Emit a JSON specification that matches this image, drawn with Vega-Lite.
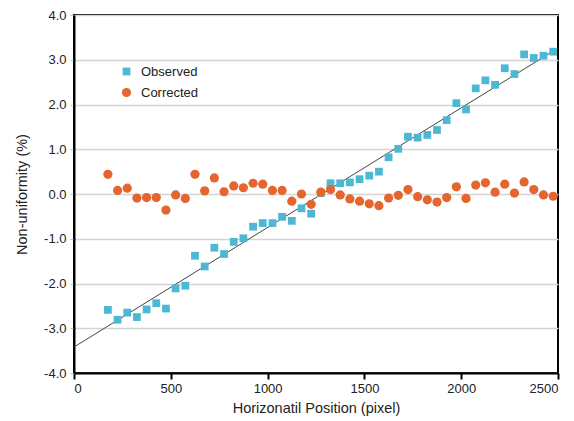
{
  "$schema": "https://vega.github.io/schema/vega-lite/v6.json",
  "width": 484,
  "height": 358,
  "autosize": {"type": "none"},
  "padding": {"left": 74, "top": 15, "right": 16, "bottom": 48},
  "background": "white",
  "config": {
    "font": "Liberation Sans",
    "locale": {"number": {"decimal": ".", "thousands": ",", "grouping": [3], "currency": ["$", ""], "minus": "-"}},
    "view": {"stroke": "#000000", "strokeWidth": 2},
    "axis": {"labelFont": "Liberation Sans", "titleFont": "Liberation Sans", "labelColor": "#222", "titleColor": "#222", "titleFontWeight": "normal"}
  },
  "datasets": {
    "fit": [
      {"x": 0, "y": -3.42},
      {"x": 2500, "y": 3.26}
    ],
    "pts": [
      {"series": "Observed", "x": 175, "y": -2.59},
      {"series": "Observed", "x": 225, "y": -2.81},
      {"series": "Observed", "x": 275, "y": -2.65},
      {"series": "Observed", "x": 325, "y": -2.75},
      {"series": "Observed", "x": 375, "y": -2.58},
      {"series": "Observed", "x": 425, "y": -2.44},
      {"series": "Observed", "x": 475, "y": -2.56},
      {"series": "Observed", "x": 525, "y": -2.11},
      {"series": "Observed", "x": 575, "y": -2.05},
      {"series": "Observed", "x": 625, "y": -1.38},
      {"series": "Observed", "x": 675, "y": -1.62},
      {"series": "Observed", "x": 725, "y": -1.20},
      {"series": "Observed", "x": 775, "y": -1.34},
      {"series": "Observed", "x": 825, "y": -1.07},
      {"series": "Observed", "x": 875, "y": -0.99},
      {"series": "Observed", "x": 925, "y": -0.73},
      {"series": "Observed", "x": 975, "y": -0.65},
      {"series": "Observed", "x": 1025, "y": -0.65},
      {"series": "Observed", "x": 1075, "y": -0.51},
      {"series": "Observed", "x": 1125, "y": -0.60},
      {"series": "Observed", "x": 1175, "y": -0.32},
      {"series": "Observed", "x": 1225, "y": -0.44},
      {"series": "Observed", "x": 1275, "y": 0.02},
      {"series": "Observed", "x": 1325, "y": 0.24},
      {"series": "Observed", "x": 1375, "y": 0.24},
      {"series": "Observed", "x": 1425, "y": 0.26},
      {"series": "Observed", "x": 1475, "y": 0.33},
      {"series": "Observed", "x": 1525, "y": 0.41},
      {"series": "Observed", "x": 1575, "y": 0.50},
      {"series": "Observed", "x": 1625, "y": 0.82},
      {"series": "Observed", "x": 1675, "y": 1.01},
      {"series": "Observed", "x": 1725, "y": 1.28},
      {"series": "Observed", "x": 1775, "y": 1.26},
      {"series": "Observed", "x": 1825, "y": 1.32},
      {"series": "Observed", "x": 1875, "y": 1.43},
      {"series": "Observed", "x": 1925, "y": 1.65},
      {"series": "Observed", "x": 1975, "y": 2.03},
      {"series": "Observed", "x": 2025, "y": 1.89},
      {"series": "Observed", "x": 2075, "y": 2.36},
      {"series": "Observed", "x": 2125, "y": 2.54},
      {"series": "Observed", "x": 2175, "y": 2.44},
      {"series": "Observed", "x": 2225, "y": 2.81},
      {"series": "Observed", "x": 2275, "y": 2.68},
      {"series": "Observed", "x": 2325, "y": 3.12},
      {"series": "Observed", "x": 2375, "y": 3.04},
      {"series": "Observed", "x": 2425, "y": 3.09},
      {"series": "Observed", "x": 2475, "y": 3.18},
      {"series": "Corrected", "x": 175, "y": 0.44},
      {"series": "Corrected", "x": 225, "y": 0.08},
      {"series": "Corrected", "x": 275, "y": 0.13},
      {"series": "Corrected", "x": 325, "y": -0.09},
      {"series": "Corrected", "x": 375, "y": -0.08},
      {"series": "Corrected", "x": 425, "y": -0.08},
      {"series": "Corrected", "x": 475, "y": -0.36},
      {"series": "Corrected", "x": 525, "y": -0.02},
      {"series": "Corrected", "x": 575, "y": -0.10},
      {"series": "Corrected", "x": 625, "y": 0.44},
      {"series": "Corrected", "x": 675, "y": 0.07},
      {"series": "Corrected", "x": 725, "y": 0.36},
      {"series": "Corrected", "x": 775, "y": 0.05},
      {"series": "Corrected", "x": 825, "y": 0.18},
      {"series": "Corrected", "x": 875, "y": 0.14},
      {"series": "Corrected", "x": 925, "y": 0.24},
      {"series": "Corrected", "x": 975, "y": 0.22},
      {"series": "Corrected", "x": 1025, "y": 0.08},
      {"series": "Corrected", "x": 1075, "y": 0.08},
      {"series": "Corrected", "x": 1125, "y": -0.16},
      {"series": "Corrected", "x": 1175, "y": 0.00},
      {"series": "Corrected", "x": 1225, "y": -0.23},
      {"series": "Corrected", "x": 1275, "y": 0.04},
      {"series": "Corrected", "x": 1325, "y": 0.10},
      {"series": "Corrected", "x": 1375, "y": -0.02},
      {"series": "Corrected", "x": 1425, "y": -0.11},
      {"series": "Corrected", "x": 1475, "y": -0.16},
      {"series": "Corrected", "x": 1525, "y": -0.22},
      {"series": "Corrected", "x": 1575, "y": -0.26},
      {"series": "Corrected", "x": 1625, "y": -0.09},
      {"series": "Corrected", "x": 1675, "y": -0.03},
      {"series": "Corrected", "x": 1725, "y": 0.10},
      {"series": "Corrected", "x": 1775, "y": -0.06},
      {"series": "Corrected", "x": 1825, "y": -0.13},
      {"series": "Corrected", "x": 1875, "y": -0.18},
      {"series": "Corrected", "x": 1925, "y": -0.08},
      {"series": "Corrected", "x": 1975, "y": 0.16},
      {"series": "Corrected", "x": 2025, "y": -0.10},
      {"series": "Corrected", "x": 2075, "y": 0.20},
      {"series": "Corrected", "x": 2125, "y": 0.25},
      {"series": "Corrected", "x": 2175, "y": 0.04},
      {"series": "Corrected", "x": 2225, "y": 0.22},
      {"series": "Corrected", "x": 2275, "y": 0.02},
      {"series": "Corrected", "x": 2325, "y": 0.27},
      {"series": "Corrected", "x": 2375, "y": 0.10},
      {"series": "Corrected", "x": 2425, "y": -0.02},
      {"series": "Corrected", "x": 2475, "y": -0.05}
    ]
  },
  "layer": [
    {
      "data": {"name": "fit"},
      "mark": {"type": "line", "color": "#444444", "strokeWidth": 1, "clip": true},
      "encoding": {
        "x": {
          "field": "x", "type": "quantitative",
          "scale": {"domain": [0, 2500], "nice": false, "zero": false},
          "axis": {
            "title": "Horizonatil Position (pixel)",
            "values": [0, 500, 1000, 1500, 2000, 2500],
            "format": "d",
            "grid": false,
            "domainColor": "#000000", "domainWidth": 2,
            "tickColor": "#000000", "tickWidth": 2, "tickSize": 6,
            "labelFontSize": 13, "labelPadding": 3,
            "titleFontSize": 14.5, "titlePadding": 6
          }
        },
        "y": {
          "field": "y", "type": "quantitative",
          "scale": {"domain": [-4, 4], "nice": false, "zero": false},
          "axis": {
            "title": "Non-uniformity (%)",
            "values": [-4, -3, -2, -1, 0, 1, 2, 3, 4],
            "format": ".1f",
            "grid": true, "gridColor": "#d4d4d4", "gridWidth": 1.5,
            "domainColor": "#000000", "domainWidth": 2,
            "tickColor": "#bbbbbb", "tickWidth": 1, "tickSize": 4,
            "labelFontSize": 13, "labelPadding": 4,
            "titleFontSize": 14.5, "titlePadding": 14
          }
        }
      }
    },
    {
      "data": {"name": "pts"},
      "mark": {"type": "point", "filled": true, "opacity": 1},
      "encoding": {
        "x": {"field": "x", "type": "quantitative"},
        "y": {"field": "y", "type": "quantitative"},
        "color": {
          "field": "series", "type": "nominal",
          "scale": {"domain": ["Observed", "Corrected"], "range": ["#4db8d3", "#e5652e"]},
          "legend": {
            "title": null, "orient": "none", "legendX": 46, "legendY": 50,
            "labelFontSize": 13, "labelColor": "#222", "symbolSize": 64,
            "rowPadding": 7, "labelOffset": 8, "padding": 0
          }
        },
        "shape": {
          "field": "series", "type": "nominal",
          "scale": {"domain": ["Observed", "Corrected"], "range": ["square", "circle"]}
        },
        "size": {
          "field": "series", "type": "nominal",
          "scale": {"domain": ["Observed", "Corrected"], "range": [60, 85]},
          "legend": null
        },
        "order": {"field": "series", "sort": "descending"}
      }
    }
  ]
}
